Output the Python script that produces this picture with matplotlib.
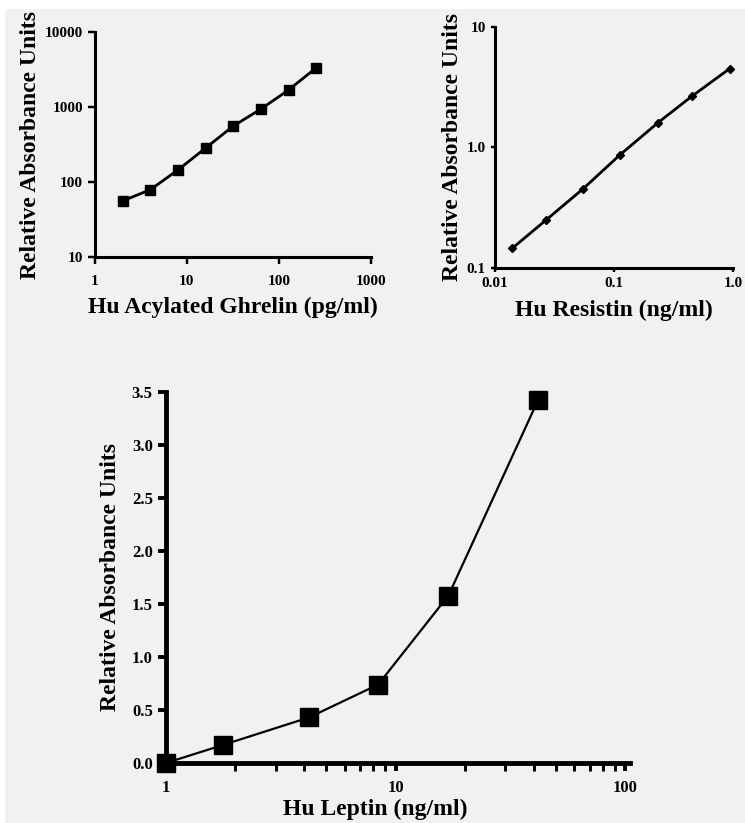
import numpy as np
import matplotlib
matplotlib.use("Agg")
from matplotlib import pyplot as plt
from matplotlib.patches import Rectangle
from matplotlib.ticker import FixedLocator, NullFormatter

# Hu Acylated Ghrelin standard curve
ghrelin_conc = [2, 4, 8, 16, 32, 64, 128, 256]
ghrelin_abs = [56, 79, 145, 284, 558, 940, 1690, 3340]

# Hu Resistin standard curve
resistin_conc = [0.014, 0.027, 0.055, 0.112, 0.235, 0.455, 0.94]
resistin_abs = [0.146, 0.251, 0.454, 0.867, 1.61, 2.68, 4.52]

# Hu Leptin standard curve
leptin_conc = [1.0, 1.77, 4.2, 8.4, 17.0, 41.7]
leptin_abs = [0.0, 0.17, 0.43, 0.74, 1.58, 3.42]

plt.rcParams['font.family'] = 'Liberation Serif'
plt.rcParams['font.weight'] = 'bold'
plt.rcParams['axes.labelweight'] = 'bold'
bg = '#f1f1f1'

fig = plt.figure(figsize=(7.45, 8.23), dpi=100, facecolor='white')
# grey panel with a thin white margin on the top and left
fig.add_artist(Rectangle((5 / 745, 0), 1, 1 - 9 / 823, transform=fig.transFigure,
                         facecolor=bg, edgecolor='none', zorder=-10))


def style_axes(ax, lw):
	ax.set_facecolor('none')
	for s in ['top', 'right']:
		ax.spines[s].set_visible(False)
	for s in ['left', 'bottom']:
		ax.spines[s].set_linewidth(lw)
	ax.tick_params(which='major', direction='out', width=lw * 0.8, length=5, labelsize=11)
	ax.tick_params(which='minor', direction='out', width=lw * 0.6, length=4)


# top left
ax1 = fig.add_axes([0.1275, 0.6877, 0.370, 0.2734])
ax1.plot(ghrelin_conc, ghrelin_abs, color='black', linewidth=2, marker='s', markersize=7, clip_on=False)
ax1.set_xscale('log')
ax1.set_yscale('log')
ax1.set_xlim(1, 1000)
ax1.set_ylim(10, 10000)
ax1.xaxis.set_major_locator(FixedLocator([1, 10, 100, 1000]))
ax1.yaxis.set_major_locator(FixedLocator([10, 100, 1000, 10000]))
ax1.set_xticklabels(['1', '10', '100', '1000'])
ax1.set_yticklabels(['10', '100', '1000', '10000'])
ax1.xaxis.set_minor_locator(FixedLocator([]))
ax1.yaxis.set_minor_locator(FixedLocator([]))
style_axes(ax1, 2.2)
ax1.tick_params(axis='x', pad=8)
ax1.set_xlabel('Hu Acylated Ghrelin (pg/ml)', fontsize=17, labelpad=6)
ax1.set_ylabel('Relative Absorbance Units', fontsize=17, labelpad=3)

# top right
ax2 = fig.add_axes([0.6644, 0.6744, 0.3195, 0.2928])
ax2.plot(resistin_conc, resistin_abs, color='black', linewidth=2, marker='D', markersize=4, clip_on=False)
ax2.set_xscale('log')
ax2.set_yscale('log')
ax2.set_xlim(0.01, 1.0)
ax2.set_ylim(0.1, 10)
ax2.xaxis.set_major_locator(FixedLocator([0.01, 0.1, 1.0]))
ax2.yaxis.set_major_locator(FixedLocator([0.1, 1.0, 10]))
ax2.set_xticklabels(['0.01', '0.1', '1.0'])
ax2.set_yticklabels(['0.1', '1.0', '10'])
ax2.xaxis.set_minor_locator(FixedLocator([]))
ax2.yaxis.set_minor_locator(FixedLocator([]))
style_axes(ax2, 2.2)
ax2.tick_params(which='major', length=3)
ax2.set_xlabel('Hu Resistin (ng/ml)', fontsize=17, labelpad=7)
ax2.set_ylabel('Relative Absorbance Units', fontsize=17, labelpad=3)

# bottom
ax3 = fig.add_axes([0.2228, 0.0729, 0.6228, 0.4508])
ax3.plot(leptin_conc, leptin_abs, color='black', linewidth=1.6, marker='s', markersize=13, clip_on=False)
ax3.set_xscale('log')
ax3.set_xlim(1, 105)
ax3.set_ylim(0, 3.5)
ax3.xaxis.set_major_locator(FixedLocator([1, 10, 100]))
ax3.set_xticklabels(['1', '10', '100'])
ax3.xaxis.set_minor_locator(FixedLocator([2, 3, 4, 5, 6, 7, 8, 9, 20, 30, 40, 50, 60, 70, 80, 90]))
ax3.xaxis.set_minor_formatter(NullFormatter())
ax3.yaxis.set_major_locator(FixedLocator(np.arange(0, 3.6, 0.5)))
ax3.set_yticklabels(['0.0', '0.5', '1.0', '1.5', '2.0', '2.5', '3.0', '3.5'])
style_axes(ax3, 3.5)
ax3.tick_params(which='major', length=6, labelsize=12)
ax3.tick_params(which='minor', length=6)
ax3.tick_params(axis='x', pad=6)
ax3.set_xlabel('Hu Leptin (ng/ml)', fontsize=17)
ax3.xaxis.set_label_coords(0.45, -0.097)
ax3.set_ylabel('Relative Absorbance Units', fontsize=17, labelpad=8)

fig.savefig('out.png', dpi=100, facecolor='white')
